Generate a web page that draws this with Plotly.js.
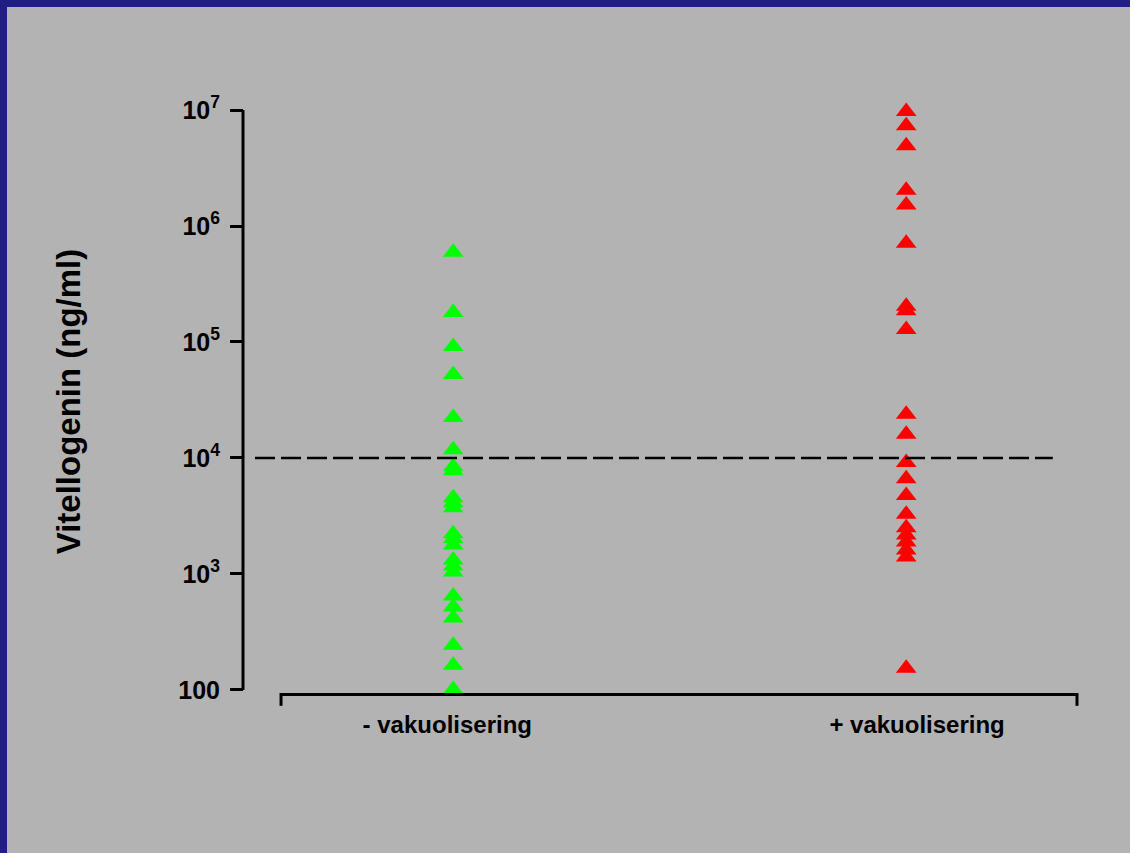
<!DOCTYPE html>
<html>
<head>
<meta charset="utf-8">
<script src="https://cdn.plot.ly/plotly-3.0.1.min.js"></script>
<style>
  html, body { margin: 0; padding: 0; background: #201e86; width: 1130px; height: 853px; overflow: hidden; }
  #chart { position: absolute; left: 7px; top: 7px; width: 1123px; height: 846px; }
</style>
</head>
<body>
<div id="chart"></div>
<script>
// ---- data ----
const categories = ["- vakuolisering", "+ vakuolisering"];
const negValues = [594000, 180000, 91600, 52500, 22300, 11800, 8410, 7770, 4540, 4110, 3720,
                   2220, 2010, 1780, 1320, 1170, 1040, 646, 519, 417, 243, 163, 101];
const posValues = [9700000, 7300000, 4910000, 2030000, 1520000, 711000, 203000, 186000, 128000,
                   23800, 16000, 9160, 6620, 4750, 3280, 2500, 2170, 1890, 1610, 1400, 154];
const yTickVals = [100, 1000, 10000, 100000, 1000000, 10000000];
const yTickText = ["100", "10<sup>3</sup>", "10<sup>4</sup>", "10<sup>5</sup>", "10<sup>6</sup>", "10<sup>7</sup>"];
const THRESHOLD = 10000;
const yTitle = "Vitellogenin (ng/ml)";

const FONT = "Arial, 'Liberation Sans', sans-serif";

const traces = [
  {
    x: negValues.map(() => 0), y: negValues, name: categories[0],
    type: "scatter", mode: "markers", cliponaxis: false,
    marker: { symbol: "triangle-up", size: 18, color: "#00ff00", line: { width: 0 } },
    hoverinfo: "y"
  },
  {
    x: posValues.map(() => 1), y: posValues, name: categories[1],
    type: "scatter", mode: "markers", cliponaxis: false,
    marker: { symbol: "triangle-up", size: 18, color: "#ff0000", line: { width: 0 } },
    hoverinfo: "y"
  }
];

const yMin = Math.log10(yTickVals[0]);
const yMax = Math.log10(yTickVals[yTickVals.length - 1]);
const yLo = yMin - 0.026;
const yFrac = v => (Math.log10(v) - yLo) / (yMax - yLo);
const xDomStart = 0.0456;

const layout = {
  width: 1123, height: 846,
  paper_bgcolor: "#b3b3b3", plot_bgcolor: "rgba(0,0,0,0)",
  margin: { l: 236, r: 53, t: 103, b: 160 },
  showlegend: false,
  font: { family: FONT, color: "#000000" },
  xaxis: {
    type: "linear",
    domain: [xDomStart, 1], range: [-0.38, 1.377],
    showgrid: false, zeroline: false,
    showline: true, linecolor: "#000000", linewidth: 3,
    tickmode: "array", tickvals: [-0.013, 1.024], ticktext: categories,
    ticks: "", ticklabelstandoff: 8,
    tickfont: { family: FONT, size: 24, color: "#000000", weight: "bold" },
    fixedrange: true
  },
  yaxis: {
    type: "log", range: [yLo, yMax],
    anchor: "free", position: 0,
    showgrid: false, zeroline: false, showline: false,
    tickmode: "array", tickvals: yTickVals, ticktext: yTickText,
    ticks: "outside", ticklen: 13, tickwidth: 3, tickcolor: "#000000",
    ticklabelstandoff: 5,
    tickfont: { family: FONT, size: 25, color: "#000000", weight: "bold" },
    title: { text: yTitle, standoff: 86, font: { family: FONT, size: 33, color: "#000000", weight: "bold" } },
    fixedrange: true
  },
  shapes: [
    { type: "line", xref: "paper", yref: "paper", x0: 0, x1: 0,
      y0: yFrac(yTickVals[0]), y1: yFrac(yTickVals[yTickVals.length - 1]),
      line: { color: "#000000", width: 3 } },
    { type: "line", xref: "paper", yref: "paper", x0: 0.0144, x1: 0.971,
      y0: yFrac(THRESHOLD), y1: yFrac(THRESHOLD),
      line: { color: "#000000", width: 2.5, dash: "20px,6px" } },
    { type: "line", xref: "paper", yref: "paper", x0: xDomStart, x1: xDomStart, y0: 0, y1: -0.022,
      line: { color: "#000000", width: 3 } },
    { type: "line", xref: "paper", yref: "paper", x0: 1, x1: 1, y0: 0, y1: -0.022,
      line: { color: "#000000", width: 3 } }
  ]
};

Plotly.newPlot("chart", traces, layout, { displayModeBar: false, staticPlot: true });
</script>
</body>
</html>
